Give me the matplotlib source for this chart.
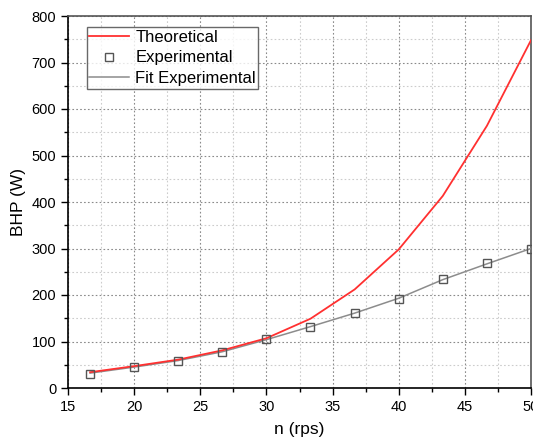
import matplotlib
matplotlib.use('Agg')
import matplotlib.pyplot as plt
from matplotlib.ticker import MultipleLocator

plt.rcParams['font.family'] = ['Liberation Sans', 'DejaVu Sans']

# Data
n_rps = [16.67, 20.0, 23.33, 26.67, 30.0, 33.33, 36.67, 40.0, 43.33, 46.67, 50.0]
bhp_theoretical = [34, 47, 61, 81, 107, 149, 212, 298, 413, 564, 748]
bhp_experimental = [31, 45, 59, 77, 105, 132, 161, 192, 234, 268, 300]
bhp_fit = [32, 45, 59, 78, 104, 132, 161, 193, 233, 267, 300]

fig = plt.figure(figsize=(5.33, 4.41), dpi=100)
ax = fig.add_axes([68 / 533, 1 - 388 / 441, (531 - 68) / 533, (388 - 16) / 441])

ax.plot(n_rps, bhp_theoretical, color='#ff3030', linewidth=1.3,
        label='Theoretical', zorder=4)
ax.plot(n_rps, bhp_experimental, linestyle='none', marker='s',
        markersize=6, markerfacecolor='none', markeredgecolor='#555555',
        markeredgewidth=1.0, label='Experimental', zorder=5)
ax.plot(n_rps, bhp_fit, color='#8c8c8c', linewidth=1.1,
        label='Fit Experimental', zorder=3)

ax.set_xlim(15, 50)
ax.set_ylim(0, 800)
ax.xaxis.set_major_locator(MultipleLocator(5))
ax.xaxis.set_minor_locator(MultipleLocator(2.5))
ax.yaxis.set_major_locator(MultipleLocator(100))
ax.yaxis.set_minor_locator(MultipleLocator(50))

ax.grid(which='major', color='#8a8a8a', linestyle=(0, (1.5, 2)), linewidth=0.8)
ax.grid(which='minor', color='#cccccc', linestyle=(0, (1.5, 2)), linewidth=0.8)
ax.set_axisbelow(True)

ax.tick_params(which='major', direction='out', length=5, width=1,
               labelsize=10.5, top=False, right=False)
ax.tick_params(which='minor', direction='out', length=3, width=1,
               top=False, right=False)
for side in ['left', 'bottom']:
    ax.spines[side].set_linewidth(1.2)
    ax.spines[side].set_color('black')
for side in ['top', 'right']:
    ax.spines[side].set_linewidth(1.2)
    ax.spines[side].set_color('#555555')

ax.set_xlabel('n (rps)', fontsize=12.5, labelpad=6)
ax.set_ylabel('BHP (W)', fontsize=12.5, labelpad=4)

leg = ax.legend(loc='upper left', bbox_to_anchor=(0.041, 0.970),
                borderaxespad=0, fontsize=12, frameon=True, fancybox=False,
                handlelength=2.4, handletextpad=0.35, labelspacing=0.35,
                borderpad=0.15, edgecolor='#444444')
leg.get_frame().set_linewidth(1.0)

fig.savefig('out.png', dpi=100)
